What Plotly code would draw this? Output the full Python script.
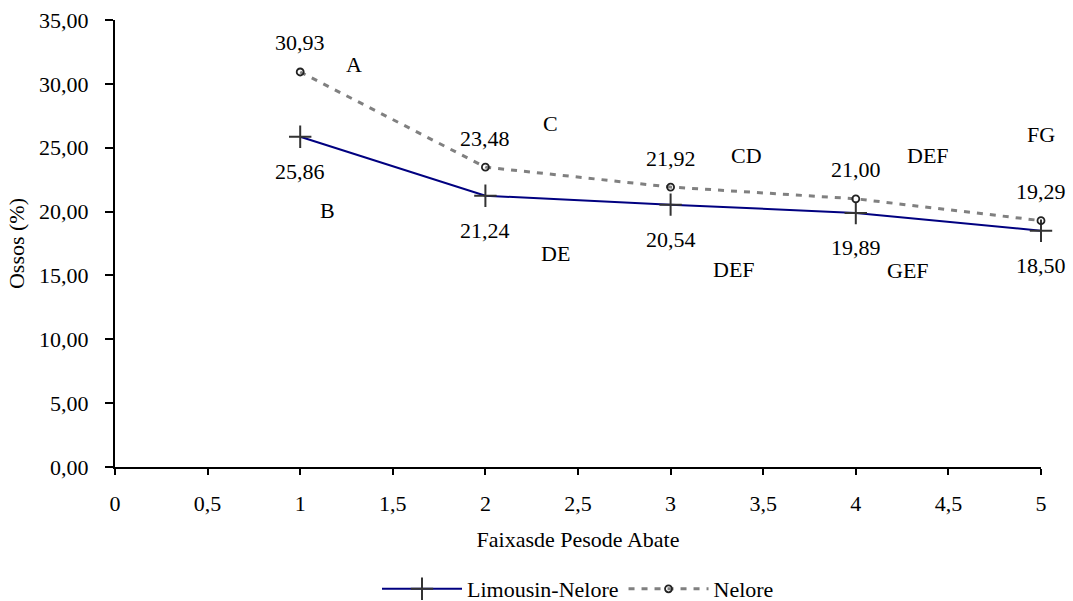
import plotly.graph_objects as go

faixas = [1, 2, 3, 4, 5]
limousin_nelore = [25.86, 21.24, 20.54, 19.89, 18.50]
nelore = [30.93, 23.48, 21.92, 21.00, 19.29]

letras = ["A", "B", "C", "DE", "CD", "DEF", "DEF", "GEF", "FG", "G"]
letras_x = [1.29, 1.15, 2.35, 2.38, 3.41, 3.34, 4.39, 4.28, 5.0, 5.03]
letras_y = [31.5, 20.1, 26.9, 16.7, 24.4, 15.5, 24.4, 15.4, 26.0, 12.1]

FONT = "Liberation Serif, Times New Roman, serif"
FS = 22

def fmt(v):
    return f"{v:.2f}".replace(".", ",")

fig = go.Figure()
fig.add_trace(go.Scatter(
    x=faixas, y=limousin_nelore, name="Limousin-Nelore", mode="lines+markers",
    line=dict(color="#000080", width=2),
    marker=dict(symbol="cross-thin", size=16, line=dict(color="#333333", width=2), color="#333333"),
    cliponaxis=False,
))
fig.add_trace(go.Scatter(
    x=faixas, y=nelore, name="Nelore", mode="lines+markers",
    line=dict(color="#808080", width=3, dash="6px,7px"),
    marker=dict(symbol="circle-open", size=7, line=dict(color="#222222", width=1.8), color="#222222"),
    cliponaxis=False,
))

annotations = []
for xv, yv in zip(faixas, nelore):
    annotations.append(dict(x=xv, y=yv, text=fmt(yv), showarrow=False, yshift=29,
                            font=dict(family=FONT, size=FS, color="black")))
for xv, yv in zip(faixas, limousin_nelore):
    annotations.append(dict(x=xv, y=yv, text=fmt(yv), showarrow=False, yshift=-35,
                            font=dict(family=FONT, size=FS, color="black")))
for t, xv, yv in zip(letras, letras_x, letras_y):
    annotations.append(dict(x=xv, y=yv, text=t, showarrow=False,
                            font=dict(family=FONT, size=FS, color="black")))

fig.update_layout(
    width=1073, height=601,
    margin=dict(l=115, r=32, t=20, b=134, autoexpand=False),
    paper_bgcolor="white", plot_bgcolor="white",
    font=dict(family=FONT, size=FS, color="black"),
    separators=",.",
    showlegend=True,
    legend=dict(orientation="h", x=0.5, xanchor="center", yref="container", y=0.02, yanchor="middle",
                font=dict(family=FONT, size=FS, color="black"), itemwidth=80),
    annotations=annotations,
    xaxis=dict(range=[0, 5], dtick=0.5, tick0=0, showgrid=False, zeroline=False,
               showline=True, linecolor="black", linewidth=2,
               ticks="outside", ticklen=6, tickwidth=2, tickcolor="black",
               ticklabelstandoff=10,
               tickfont=dict(family=FONT, size=FS),
               title=dict(text="Faixasde Pesode Abate", standoff=16,
                          font=dict(family=FONT, size=FS, color="black"))),
    yaxis=dict(range=[0, 35], dtick=5, tickformat=".2f", showgrid=False, zeroline=False,
               showline=True, linecolor="black", linewidth=2,
               ticks="outside", ticklen=8, tickwidth=2, tickcolor="black",
               ticklabelstandoff=12,
               tickfont=dict(family=FONT, size=FS),
               title=dict(text="Ossos (%)", standoff=8,
                          font=dict(family=FONT, size=FS, color="black"))),
)

fig.write_html("out.html")
